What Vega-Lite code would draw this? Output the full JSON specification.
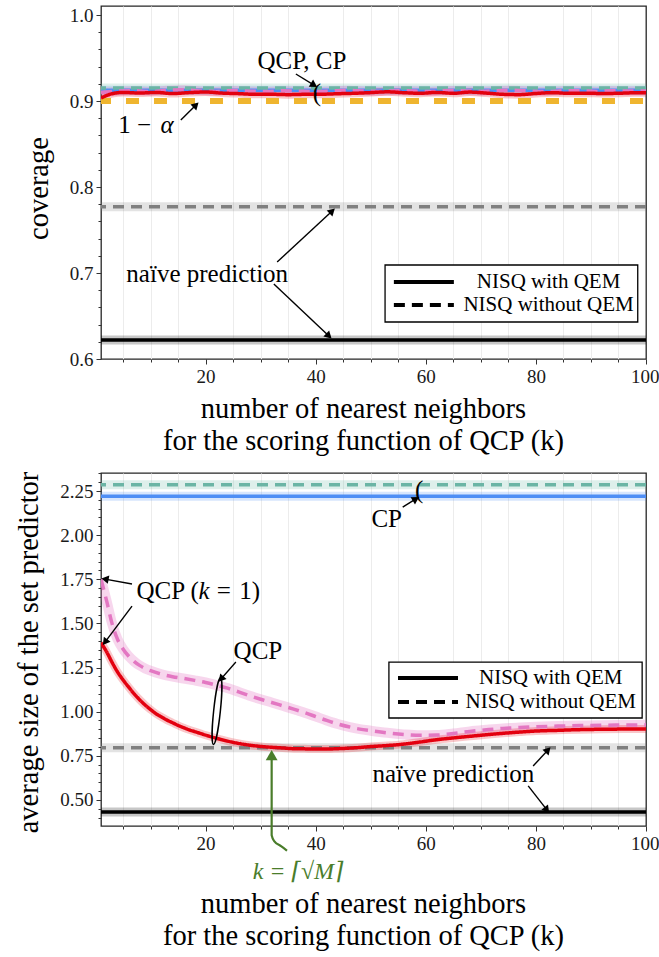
{
  "$schema": "https://vega.github.io/schema/vega-lite/v6.json",
  "background": "white",
  "padding": {"left": 13, "top": 5, "right": 2, "bottom": 2},
  "spacing": 114,
  "bounds": "flush",
  "config": {
    "font": "'Liberation Serif', 'Times New Roman', 'DejaVu Serif', serif",
    "view": {"stroke": "#262626", "strokeWidth": 1.3},
    "axis": {
      "domain": false,
      "labelFont": "'Liberation Serif', 'Times New Roman', 'DejaVu Serif', serif",
      "labelFontSize": 19,
      "labelColor": "#1a1a1a",
      "labelPadding": 3,
      "labelOverlap": false,
      "labelFlush": false,
      "tickColor": "#333333",
      "tickWidth": 1,
      "gridWidth": 1,
      "titleFont": "'Liberation Serif', 'Times New Roman', 'DejaVu Serif', serif",
      "titleFontSize": 28.5,
      "titleFontWeight": "normal",
      "titleColor": "black"
    },
    "text": {"font": "'Liberation Serif', 'Times New Roman', 'DejaVu Serif', serif"}
  },
  "resolve": {
    "scale": {"color": "independent", "strokeDash": "independent"}
  },
  "datasets": {
    "cov_qcp": [
      {"k": 1, "setting": "NISQ with QEM", "coverage": 0.9035},
      {"k": 3, "setting": "NISQ with QEM", "coverage": 0.9085},
      {"k": 5, "setting": "NISQ with QEM", "coverage": 0.9100},
      {"k": 8, "setting": "NISQ with QEM", "coverage": 0.9093},
      {"k": 11, "setting": "NISQ with QEM", "coverage": 0.9100},
      {"k": 14, "setting": "NISQ with QEM", "coverage": 0.9087},
      {"k": 17, "setting": "NISQ with QEM", "coverage": 0.9098},
      {"k": 20, "setting": "NISQ with QEM", "coverage": 0.9105},
      {"k": 23, "setting": "NISQ with QEM", "coverage": 0.9092},
      {"k": 26, "setting": "NISQ with QEM", "coverage": 0.9086},
      {"k": 29, "setting": "NISQ with QEM", "coverage": 0.9078},
      {"k": 32, "setting": "NISQ with QEM", "coverage": 0.9078},
      {"k": 35, "setting": "NISQ with QEM", "coverage": 0.9074},
      {"k": 38, "setting": "NISQ with QEM", "coverage": 0.9078},
      {"k": 41, "setting": "NISQ with QEM", "coverage": 0.9079},
      {"k": 44, "setting": "NISQ with QEM", "coverage": 0.9085},
      {"k": 47, "setting": "NISQ with QEM", "coverage": 0.9090},
      {"k": 50, "setting": "NISQ with QEM", "coverage": 0.9098},
      {"k": 53, "setting": "NISQ with QEM", "coverage": 0.9107},
      {"k": 56, "setting": "NISQ with QEM", "coverage": 0.9097},
      {"k": 59, "setting": "NISQ with QEM", "coverage": 0.9090},
      {"k": 62, "setting": "NISQ with QEM", "coverage": 0.9100},
      {"k": 65, "setting": "NISQ with QEM", "coverage": 0.9090},
      {"k": 68, "setting": "NISQ with QEM", "coverage": 0.9104},
      {"k": 71, "setting": "NISQ with QEM", "coverage": 0.9092},
      {"k": 74, "setting": "NISQ with QEM", "coverage": 0.9078},
      {"k": 77, "setting": "NISQ with QEM", "coverage": 0.9074},
      {"k": 80, "setting": "NISQ with QEM", "coverage": 0.9088},
      {"k": 83, "setting": "NISQ with QEM", "coverage": 0.9097},
      {"k": 86, "setting": "NISQ with QEM", "coverage": 0.9090},
      {"k": 89, "setting": "NISQ with QEM", "coverage": 0.9091},
      {"k": 92, "setting": "NISQ with QEM", "coverage": 0.9088},
      {"k": 95, "setting": "NISQ with QEM", "coverage": 0.9090},
      {"k": 98, "setting": "NISQ with QEM", "coverage": 0.9096},
      {"k": 100, "setting": "NISQ with QEM", "coverage": 0.9096},
      {"k": 1, "setting": "NISQ without QEM", "coverage": 0.9100},
      {"k": 4, "setting": "NISQ without QEM", "coverage": 0.9115},
      {"k": 7, "setting": "NISQ without QEM", "coverage": 0.9120},
      {"k": 10, "setting": "NISQ without QEM", "coverage": 0.9110},
      {"k": 13, "setting": "NISQ without QEM", "coverage": 0.9125},
      {"k": 16, "setting": "NISQ without QEM", "coverage": 0.9130},
      {"k": 19, "setting": "NISQ without QEM", "coverage": 0.9118},
      {"k": 22, "setting": "NISQ without QEM", "coverage": 0.9112},
      {"k": 25, "setting": "NISQ without QEM", "coverage": 0.9122},
      {"k": 28, "setting": "NISQ without QEM", "coverage": 0.9115},
      {"k": 31, "setting": "NISQ without QEM", "coverage": 0.9110},
      {"k": 34, "setting": "NISQ without QEM", "coverage": 0.9120},
      {"k": 37, "setting": "NISQ without QEM", "coverage": 0.9115},
      {"k": 40, "setting": "NISQ without QEM", "coverage": 0.9110},
      {"k": 43, "setting": "NISQ without QEM", "coverage": 0.9118},
      {"k": 46, "setting": "NISQ without QEM", "coverage": 0.9125},
      {"k": 49, "setting": "NISQ without QEM", "coverage": 0.9115},
      {"k": 52, "setting": "NISQ without QEM", "coverage": 0.9112},
      {"k": 55, "setting": "NISQ without QEM", "coverage": 0.9120},
      {"k": 58, "setting": "NISQ without QEM", "coverage": 0.9116},
      {"k": 61, "setting": "NISQ without QEM", "coverage": 0.9110},
      {"k": 64, "setting": "NISQ without QEM", "coverage": 0.9122},
      {"k": 67, "setting": "NISQ without QEM", "coverage": 0.9118},
      {"k": 70, "setting": "NISQ without QEM", "coverage": 0.9112},
      {"k": 73, "setting": "NISQ without QEM", "coverage": 0.9120},
      {"k": 76, "setting": "NISQ without QEM", "coverage": 0.9125},
      {"k": 79, "setting": "NISQ without QEM", "coverage": 0.9115},
      {"k": 82, "setting": "NISQ without QEM", "coverage": 0.9110},
      {"k": 85, "setting": "NISQ without QEM", "coverage": 0.9120},
      {"k": 88, "setting": "NISQ without QEM", "coverage": 0.9118},
      {"k": 91, "setting": "NISQ without QEM", "coverage": 0.9112},
      {"k": 94, "setting": "NISQ without QEM", "coverage": 0.9120},
      {"k": 97, "setting": "NISQ without QEM", "coverage": 0.9116},
      {"k": 100, "setting": "NISQ without QEM", "coverage": 0.9118}
    ],
    "cov_ref": [
      {"method": "CP", "series": "CP with QEM", "setting": "NISQ with QEM", "coverage": 0.9125},
      {"method": "CP", "series": "CP without QEM", "setting": "NISQ without QEM", "coverage": 0.915},
      {"method": "naive", "series": "naïve with QEM", "setting": "NISQ with QEM", "coverage": 0.622},
      {"method": "naive", "series": "naïve without QEM", "setting": "NISQ without QEM", "coverage": 0.777},
      {"method": "target", "series": "1 − α", "setting": "", "coverage": 0.9}
    ],
    "cov_notes": [
      {"k": 37.5, "coverage": 0.9465, "label": "QCP, CP", "kind": "text"},
      {"k": 7.13, "coverage": 0.8721, "label": "1 −", "kind": "text"},
      {"k": 13.0, "coverage": 0.8721, "label": "α", "kind": "math"},
      {"k": 20.3, "coverage": 0.699, "label": "naïve prediction", "kind": "text"},
      {"k": 40.2, "coverage": 0.9094, "label": "(", "kind": "brace"}
    ],
    "cov_arrows": [
      {"k": 36.4, "coverage": 0.9314, "k_tip": 39.7, "coverage_tip": 0.9186},
      {"k": 15.5, "coverage": 0.8779, "k_tip": 18.25, "coverage_tip": 0.8954},
      {"k": 33.0, "coverage": 0.7128, "k_tip": 43.0, "coverage_tip": 0.7721},
      {"k": 32.4, "coverage": 0.6872, "k_tip": 42.4, "coverage_tip": 0.6268}
    ],
    "cov_key_box": [
      {"k": 52.6, "k_end": 98.5, "coverage": 0.7093, "coverage_end": 0.643}
    ],
    "cov_key": [
      {"setting": "NISQ with QEM", "k": 54.2, "k_end": 65.1, "k_label": 82.3, "coverage": 0.6895},
      {"setting": "NISQ without QEM", "k": 54.2, "k_end": 65.1, "k_label": 82.3, "coverage": 0.6627}
    ],
    "size_qcp": [
      {"k": 1, "setting": "NISQ with QEM", "size": 1.39},
      {"k": 2, "setting": "NISQ with QEM", "size": 1.34},
      {"k": 3, "setting": "NISQ with QEM", "size": 1.28},
      {"k": 4, "setting": "NISQ with QEM", "size": 1.225},
      {"k": 5, "setting": "NISQ with QEM", "size": 1.18},
      {"k": 6, "setting": "NISQ with QEM", "size": 1.14},
      {"k": 7, "setting": "NISQ with QEM", "size": 1.102},
      {"k": 8, "setting": "NISQ with QEM", "size": 1.068},
      {"k": 9, "setting": "NISQ with QEM", "size": 1.038},
      {"k": 10, "setting": "NISQ with QEM", "size": 1.012},
      {"k": 11, "setting": "NISQ with QEM", "size": 0.988},
      {"k": 12, "setting": "NISQ with QEM", "size": 0.970},
      {"k": 13, "setting": "NISQ with QEM", "size": 0.952},
      {"k": 14, "setting": "NISQ with QEM", "size": 0.937},
      {"k": 15, "setting": "NISQ with QEM", "size": 0.922},
      {"k": 16, "setting": "NISQ with QEM", "size": 0.909},
      {"k": 17, "setting": "NISQ with QEM", "size": 0.897},
      {"k": 18, "setting": "NISQ with QEM", "size": 0.887},
      {"k": 19, "setting": "NISQ with QEM", "size": 0.877},
      {"k": 20, "setting": "NISQ with QEM", "size": 0.867},
      {"k": 22, "setting": "NISQ with QEM", "size": 0.849},
      {"k": 24, "setting": "NISQ with QEM", "size": 0.833},
      {"k": 26, "setting": "NISQ with QEM", "size": 0.820},
      {"k": 28, "setting": "NISQ with QEM", "size": 0.810},
      {"k": 30, "setting": "NISQ with QEM", "size": 0.803},
      {"k": 32, "setting": "NISQ with QEM", "size": 0.798},
      {"k": 34, "setting": "NISQ with QEM", "size": 0.794},
      {"k": 36, "setting": "NISQ with QEM", "size": 0.790},
      {"k": 38, "setting": "NISQ with QEM", "size": 0.789},
      {"k": 40, "setting": "NISQ with QEM", "size": 0.788},
      {"k": 42, "setting": "NISQ with QEM", "size": 0.788},
      {"k": 44, "setting": "NISQ with QEM", "size": 0.790},
      {"k": 46, "setting": "NISQ with QEM", "size": 0.793},
      {"k": 48, "setting": "NISQ with QEM", "size": 0.797},
      {"k": 50, "setting": "NISQ with QEM", "size": 0.802},
      {"k": 53, "setting": "NISQ with QEM", "size": 0.808},
      {"k": 56, "setting": "NISQ with QEM", "size": 0.816},
      {"k": 59, "setting": "NISQ with QEM", "size": 0.828},
      {"k": 62, "setting": "NISQ with QEM", "size": 0.841},
      {"k": 65, "setting": "NISQ with QEM", "size": 0.851},
      {"k": 68, "setting": "NISQ with QEM", "size": 0.860},
      {"k": 71, "setting": "NISQ with QEM", "size": 0.869},
      {"k": 74, "setting": "NISQ with QEM", "size": 0.877},
      {"k": 77, "setting": "NISQ with QEM", "size": 0.884},
      {"k": 80, "setting": "NISQ with QEM", "size": 0.890},
      {"k": 84, "setting": "NISQ with QEM", "size": 0.894},
      {"k": 88, "setting": "NISQ with QEM", "size": 0.898},
      {"k": 92, "setting": "NISQ with QEM", "size": 0.900},
      {"k": 96, "setting": "NISQ with QEM", "size": 0.901},
      {"k": 100, "setting": "NISQ with QEM", "size": 0.901},
      {"k": 1, "setting": "NISQ without QEM", "size": 1.75},
      {"k": 2, "setting": "NISQ without QEM", "size": 1.63},
      {"k": 3, "setting": "NISQ without QEM", "size": 1.50},
      {"k": 4, "setting": "NISQ without QEM", "size": 1.41},
      {"k": 5, "setting": "NISQ without QEM", "size": 1.355},
      {"k": 6, "setting": "NISQ without QEM", "size": 1.315},
      {"k": 7, "setting": "NISQ without QEM", "size": 1.285},
      {"k": 8, "setting": "NISQ without QEM", "size": 1.262},
      {"k": 9, "setting": "NISQ without QEM", "size": 1.245},
      {"k": 10, "setting": "NISQ without QEM", "size": 1.232},
      {"k": 12, "setting": "NISQ without QEM", "size": 1.212},
      {"k": 14, "setting": "NISQ without QEM", "size": 1.198},
      {"k": 16, "setting": "NISQ without QEM", "size": 1.188},
      {"k": 18, "setting": "NISQ without QEM", "size": 1.177},
      {"k": 20, "setting": "NISQ without QEM", "size": 1.165},
      {"k": 22, "setting": "NISQ without QEM", "size": 1.150},
      {"k": 24, "setting": "NISQ without QEM", "size": 1.133},
      {"k": 26, "setting": "NISQ without QEM", "size": 1.112},
      {"k": 28, "setting": "NISQ without QEM", "size": 1.090},
      {"k": 30, "setting": "NISQ without QEM", "size": 1.070},
      {"k": 32, "setting": "NISQ without QEM", "size": 1.052},
      {"k": 34, "setting": "NISQ without QEM", "size": 1.033},
      {"k": 36, "setting": "NISQ without QEM", "size": 1.014},
      {"k": 38, "setting": "NISQ without QEM", "size": 0.994},
      {"k": 40, "setting": "NISQ without QEM", "size": 0.972},
      {"k": 42, "setting": "NISQ without QEM", "size": 0.950},
      {"k": 44, "setting": "NISQ without QEM", "size": 0.930},
      {"k": 46, "setting": "NISQ without QEM", "size": 0.914},
      {"k": 48, "setting": "NISQ without QEM", "size": 0.901},
      {"k": 50, "setting": "NISQ without QEM", "size": 0.892},
      {"k": 53, "setting": "NISQ without QEM", "size": 0.880},
      {"k": 56, "setting": "NISQ without QEM", "size": 0.871},
      {"k": 59, "setting": "NISQ without QEM", "size": 0.866},
      {"k": 62, "setting": "NISQ without QEM", "size": 0.867},
      {"k": 65, "setting": "NISQ without QEM", "size": 0.876},
      {"k": 68, "setting": "NISQ without QEM", "size": 0.888},
      {"k": 71, "setting": "NISQ without QEM", "size": 0.897},
      {"k": 74, "setting": "NISQ without QEM", "size": 0.905},
      {"k": 77, "setting": "NISQ without QEM", "size": 0.910},
      {"k": 80, "setting": "NISQ without QEM", "size": 0.914},
      {"k": 84, "setting": "NISQ without QEM", "size": 0.918},
      {"k": 88, "setting": "NISQ without QEM", "size": 0.921},
      {"k": 92, "setting": "NISQ without QEM", "size": 0.923},
      {"k": 96, "setting": "NISQ without QEM", "size": 0.924},
      {"k": 100, "setting": "NISQ without QEM", "size": 0.925}
    ],
    "size_ref": [
      {"method": "CP", "series": "CP with QEM", "setting": "NISQ with QEM", "size": 2.22},
      {"method": "CP", "series": "CP without QEM", "setting": "NISQ without QEM", "size": 2.285},
      {"method": "naive", "series": "naïve with QEM", "setting": "NISQ with QEM", "size": 0.432},
      {"method": "naive", "series": "naïve without QEM", "setting": "NISQ without QEM", "size": 0.795}
    ],
    "size_notes": [
      {"k": 52.9, "size": 2.091, "label": "CP", "kind": "text"},
      {"k": 13.1, "size": 1.683, "label": "QCP (", "kind": "text"},
      {"k": 19.7, "size": 1.683, "label": "k", "kind": "math"},
      {"k": 23.3, "size": 1.683, "label": "=", "kind": "text"},
      {"k": 28.0, "size": 1.683, "label": "1)", "kind": "text"},
      {"k": 29.5, "size": 1.344, "label": "QCP", "kind": "text"},
      {"k": 65.0, "size": 0.647, "label": "naïve prediction", "kind": "text"},
      {"k": 58.8, "size": 2.256, "label": "(", "kind": "brace"},
      {"k": 36.8, "size": 0.091, "label": "k = ⌈√M⌉", "kind": "marker"}
    ],
    "size_arrows": [
      {"k": 6.63, "size": 1.723, "k_tip": 1.73, "size_tip": 1.751},
      {"k": 6.63, "size": 1.598, "k_tip": 1.73, "size_tip": 1.394},
      {"k": 25.5, "size": 1.281, "k_tip": 22.8, "size_tip": 1.185},
      {"k": 55.8, "size": 2.159, "k_tip": 58.2, "size_tip": 2.205},
      {"k": 79.5, "size": 0.692, "k_tip": 82.2, "size_tip": 0.783},
      {"k": 78.6, "size": 0.579, "k_tip": 82.0, "size_tip": 0.443}
    ],
    "size_ring": [
      {"k": 22.07, "size": 1.003}
    ],
    "size_kmark_path": [
      {"step": 1, "k": 32, "size": 0.73},
      {"step": 2, "k": 32, "size": 0.30},
      {"step": 3, "k": 32.5, "size": 0.265},
      {"step": 4, "k": 33.7, "size": 0.238},
      {"step": 5, "k": 34.8, "size": 0.212}
    ],
    "size_kmark_head": [
      {"k": 32, "size": 0.754}
    ],
    "size_key_box": [
      {"k": 53.3, "k_end": 99.3, "size": 1.281, "size_end": 0.964}
    ],
    "size_key": [
      {"setting": "NISQ with QEM", "k": 54.95, "k_end": 65.85, "k_label": 82.7, "size": 1.19},
      {"setting": "NISQ without QEM", "k": 54.95, "k_end": 65.85, "k_label": 82.7, "size": 1.054}
    ]
  },
  "vconcat": [
    {
      "width": 545,
      "height": 353,
      "resolve": {"axis": {"x": "independent", "y": "independent"}},
      "layer": [
        {
          "data": {"name": "cov_ref"},
          "transform": [{"filter": "datum.method !== 'target'"}],
          "mark": {"type": "rule", "strokeWidth": 9, "opacity": 0.22},
          "encoding": {
            "y": {"field": "coverage", "type": "quantitative", "axis": null, "scale": {"domain": [0.6, 1.0105], "nice": false, "zero": false}},
            "color": {"field": "series", "type": "nominal", "legend": null,
              "scale": {"domain": ["CP with QEM", "CP without QEM", "naïve with QEM", "naïve without QEM"], "range": ["#4f8ef5", "#6bb5a5", "#000000", "#808080"]}}
          }
        },
        {
          "data": {"name": "cov_qcp"},
          "transform": [{"filter": "datum.setting === 'NISQ without QEM'"}],
          "mark": {"type": "line", "color": "#e377c2", "strokeWidth": 9, "opacity": 0.3, "interpolate": "monotone", "clip": true},
          "encoding": {
            "x": {"field": "k", "type": "quantitative", "scale": {"domain": [1, 100], "nice": false, "zero": false},
              "axis": {
                "orient": "bottom",
                "values": [5, 10, 15, 25, 30, 35, 45, 50, 55, 65, 70, 75, 85, 90, 95],
                "labels": false, "tickSize": 3, "gridColor": "#ececec", "title": null
              }},
            "y": {"field": "coverage", "type": "quantitative", "scale": {"domain": [0.6, 1.0105], "nice": false, "zero": false},
              "axis": {
                "orient": "left",
                "values": [0.62, 0.64, 0.66, 0.68, 0.72, 0.74, 0.76, 0.78, 0.82, 0.84, 0.86, 0.88, 0.92, 0.94, 0.96, 0.98],
                "labels": false, "tickSize": 3, "gridColor": "#ececec", "title": null
              }}
          }
        },
        {
          "data": {"name": "cov_qcp"},
          "transform": [{"filter": "datum.setting === 'NISQ with QEM'"}],
          "mark": {"type": "line", "color": "#e3000f", "strokeWidth": 8, "opacity": 0.22, "interpolate": "monotone", "clip": true},
          "encoding": {
            "x": {"field": "k", "type": "quantitative", "scale": {"domain": [1, 100], "nice": false, "zero": false},
              "axis": {
                "orient": "bottom",
                "values": [20, 40, 60, 80, 100],
                "format": "d", "labelOverlap": false, "labelFlush": true, "labelFlushOffset": 13,
                "tickSize": 5, "gridColor": "#b0b0b0", "gridDash": [1.5, 2.5],
                "title": ["number of nearest neighbors", "for the scoring function of QCP (k)"],
                "titleX": 262, "titleY": 58, "titleAlign": "center", "titleBaseline": "alphabetic", "titleLineHeight": 32
              }},
            "y": {"field": "coverage", "type": "quantitative", "scale": {"domain": [0.6, 1.0105], "nice": false, "zero": false},
              "axis": {
                "orient": "left",
                "values": [0.6, 0.7, 0.8, 0.9, 1.0],
                "format": ".1f", "labelOverlap": false, "labelFlush": false,
                "tickSize": 5, "gridColor": "#b0b0b0", "gridDash": [1.5, 2.5],
                "title": "coverage",
                "titleX": -54, "titleY": 182, "titleAlign": "center", "titleBaseline": "alphabetic", "titleAngle": 270
              }}
          }
        },
        {
          "data": {"name": "cov_ref"},
          "transform": [{"filter": "datum.method !== 'target'"}],
          "mark": {"type": "rule", "strokeWidth": 3.5},
          "encoding": {
            "y": {"field": "coverage", "type": "quantitative", "axis": null, "scale": {"domain": [0.6, 1.0105], "nice": false, "zero": false}},
            "color": {"field": "series", "type": "nominal", "legend": null,
              "scale": {"domain": ["CP with QEM", "CP without QEM", "naïve with QEM", "naïve without QEM"], "range": ["#4f8ef5", "#6bb5a5", "#000000", "#808080"]}},
            "strokeDash": {"field": "setting", "type": "nominal", "legend": null,
              "scale": {"domain": ["NISQ with QEM", "NISQ without QEM"], "range": [[1, 0], [11, 7]]}}
          }
        },
        {
          "data": {"name": "cov_ref"},
          "transform": [{"filter": "datum.method === 'target'"}],
          "mark": {"type": "rule", "color": "#efb52f", "strokeWidth": 6, "strokeDash": [13, 15], "strokeDashOffset": 25},
          "encoding": {
            "y": {"field": "coverage", "type": "quantitative", "axis": null, "scale": {"domain": [0.6, 1.0105], "nice": false, "zero": false}}
          }
        },
        {
          "data": {"name": "cov_qcp"},
          "transform": [{"filter": "datum.setting === 'NISQ without QEM'"}],
          "mark": {"type": "line", "color": "#e377c2", "strokeWidth": 3.5, "interpolate": "monotone", "clip": true},
          "encoding": {
            "x": {"field": "k", "type": "quantitative", "axis": null, "scale": {"domain": [1, 100], "nice": false, "zero": false}},
            "y": {"field": "coverage", "type": "quantitative", "axis": null, "scale": {"domain": [0.6, 1.0105], "nice": false, "zero": false}},
            "strokeDash": {"field": "setting", "type": "nominal", "legend": null,
              "scale": {"domain": ["NISQ with QEM", "NISQ without QEM"], "range": [[1, 0], [11, 7]]}}
          }
        },
        {
          "data": {"name": "cov_qcp"},
          "transform": [{"filter": "datum.setting === 'NISQ with QEM'"}],
          "mark": {"type": "line", "color": "#e3000f", "strokeWidth": 3.5, "interpolate": "monotone", "clip": true},
          "encoding": {
            "x": {"field": "k", "type": "quantitative", "axis": null, "scale": {"domain": [1, 100], "nice": false, "zero": false}},
            "y": {"field": "coverage", "type": "quantitative", "axis": null, "scale": {"domain": [0.6, 1.0105], "nice": false, "zero": false}},
            "strokeDash": {"field": "setting", "type": "nominal", "legend": null,
              "scale": {"domain": ["NISQ with QEM", "NISQ without QEM"], "range": [[1, 0], [11, 7]]}}
          }
        },
        {
          "data": {"name": "cov_arrows"},
          "mark": {"type": "rule", "color": "black", "strokeWidth": 1.4},
          "encoding": {
            "x": {"field": "k", "type": "quantitative", "axis": null, "scale": {"domain": [1, 100], "nice": false, "zero": false}},
            "y": {"field": "coverage", "type": "quantitative", "axis": null, "scale": {"domain": [0.6, 1.0105], "nice": false, "zero": false}},
            "x2": {"field": "k_tip"},
            "y2": {"field": "coverage_tip"}
          }
        },
        {
          "data": {"name": "cov_arrows"},
          "transform": [{"calculate": "atan2((datum.k_tip - datum.k) * 5.505, (datum.coverage_tip - datum.coverage) * 860) * 180 / PI", "as": "heading"}],
          "mark": {"type": "point", "shape": "triangle-up", "filled": true, "color": "black", "opacity": 1, "size": 70},
          "encoding": {
            "x": {"field": "k_tip", "type": "quantitative", "axis": null, "scale": {"domain": [1, 100], "nice": false, "zero": false}},
            "y": {"field": "coverage_tip", "type": "quantitative", "axis": null, "scale": {"domain": [0.6, 1.0105], "nice": false, "zero": false}},
            "angle": {"field": "heading", "type": "quantitative", "scale": null}
          }
        },
        {
          "data": {"name": "cov_notes"},
          "transform": [{"filter": "datum.kind === 'text'"}],
          "mark": {"type": "text", "fontSize": 25, "align": "center", "baseline": "middle", "color": "black"},
          "encoding": {
            "x": {"field": "k", "type": "quantitative", "axis": null, "scale": {"domain": [1, 100], "nice": false, "zero": false}},
            "y": {"field": "coverage", "type": "quantitative", "axis": null, "scale": {"domain": [0.6, 1.0105], "nice": false, "zero": false}},
            "text": {"field": "label"}
          }
        },
        {
          "data": {"name": "cov_notes"},
          "transform": [{"filter": "datum.kind === 'math'"}],
          "mark": {"type": "text", "fontSize": 25, "fontStyle": "italic", "align": "center", "baseline": "middle", "color": "black"},
          "encoding": {
            "x": {"field": "k", "type": "quantitative", "axis": null, "scale": {"domain": [1, 100], "nice": false, "zero": false}},
            "y": {"field": "coverage", "type": "quantitative", "axis": null, "scale": {"domain": [0.6, 1.0105], "nice": false, "zero": false}},
            "text": {"field": "label"}
          }
        },
        {
          "data": {"name": "cov_notes"},
          "transform": [{"filter": "datum.kind === 'brace'"}],
          "mark": {"type": "text", "fontSize": 25, "align": "center", "baseline": "middle", "color": "black"},
          "encoding": {
            "x": {"field": "k", "type": "quantitative", "axis": null, "scale": {"domain": [1, 100], "nice": false, "zero": false}},
            "y": {"field": "coverage", "type": "quantitative", "axis": null, "scale": {"domain": [0.6, 1.0105], "nice": false, "zero": false}},
            "text": {"field": "label"}
          }
        },
        {
          "data": {"name": "cov_key_box"},
          "mark": {"type": "rect", "fill": "white", "stroke": "black", "strokeWidth": 1.3},
          "encoding": {
            "x": {"field": "k", "type": "quantitative", "axis": null, "scale": {"domain": [1, 100], "nice": false, "zero": false}},
            "x2": {"field": "k_end"},
            "y": {"field": "coverage", "type": "quantitative", "axis": null, "scale": {"domain": [0.6, 1.0105], "nice": false, "zero": false}},
            "y2": {"field": "coverage_end"}
          }
        },
        {
          "data": {"name": "cov_key"},
          "mark": {"type": "rule", "color": "black", "strokeWidth": 4},
          "encoding": {
            "x": {"field": "k", "type": "quantitative", "axis": null, "scale": {"domain": [1, 100], "nice": false, "zero": false}},
            "x2": {"field": "k_end"},
            "y": {"field": "coverage", "type": "quantitative", "axis": null, "scale": {"domain": [0.6, 1.0105], "nice": false, "zero": false}},
            "strokeDash": {"field": "setting", "type": "nominal", "legend": null,
              "scale": {"domain": ["NISQ with QEM", "NISQ without QEM"], "range": [[1, 0], [11, 7]]}}
          }
        },
        {
          "data": {"name": "cov_key"},
          "mark": {"type": "text", "fontSize": 21, "align": "center", "baseline": "middle", "color": "black"},
          "encoding": {
            "x": {"field": "k_label", "type": "quantitative", "axis": null, "scale": {"domain": [1, 100], "nice": false, "zero": false}},
            "y": {"field": "coverage", "type": "quantitative", "axis": null, "scale": {"domain": [0.6, 1.0105], "nice": false, "zero": false}},
            "text": {"field": "setting"}
          }
        }
      ]
    },
    {
      "width": 545,
      "height": 353,
      "resolve": {"axis": {"x": "independent", "y": "independent"}},
      "layer": [
        {
          "data": {"name": "size_ref"},
          "mark": {"type": "rule", "strokeWidth": 9, "opacity": 0.22},
          "encoding": {
            "y": {"field": "size", "type": "quantitative", "axis": null, "scale": {"domain": [0.352, 2.352], "nice": false, "zero": false}},
            "color": {"field": "series", "type": "nominal", "legend": null,
              "scale": {"domain": ["CP with QEM", "CP without QEM", "naïve with QEM", "naïve without QEM"], "range": ["#4f8ef5", "#6bb5a5", "#000000", "#808080"]}}
          }
        },
        {
          "data": {"name": "size_qcp"},
          "transform": [{"filter": "datum.setting === 'NISQ without QEM'"}],
          "mark": {"type": "line", "color": "#e377c2", "strokeWidth": 10, "opacity": 0.3, "interpolate": "monotone", "clip": true},
          "encoding": {
            "x": {"field": "k", "type": "quantitative", "scale": {"domain": [1, 100], "nice": false, "zero": false},
              "axis": {
                "orient": "bottom",
                "values": [5, 10, 15, 25, 30, 35, 45, 50, 55, 65, 70, 75, 85, 90, 95],
                "labels": false, "tickSize": 3, "gridColor": "#ececec", "title": null
              }},
            "y": {"field": "size", "type": "quantitative", "scale": {"domain": [0.352, 2.352], "nice": false, "zero": false},
              "axis": {
                "orient": "left",
                "values": [0.4, 0.45, 0.55, 0.6, 0.65, 0.7, 0.8, 0.85, 0.9, 0.95, 1.05, 1.1, 1.15, 1.2, 1.3, 1.35, 1.4, 1.45, 1.55, 1.6, 1.65, 1.7, 1.8, 1.85, 1.9, 1.95, 2.05, 2.1, 2.15, 2.2, 2.3, 2.35],
                "labels": false, "tickSize": 3, "gridColor": "#ececec", "title": null
              }}
          }
        },
        {
          "data": {"name": "size_qcp"},
          "transform": [{"filter": "datum.setting === 'NISQ with QEM'"}],
          "mark": {"type": "line", "color": "#e3000f", "strokeWidth": 8, "opacity": 0.22, "interpolate": "monotone", "clip": true},
          "encoding": {
            "x": {"field": "k", "type": "quantitative", "scale": {"domain": [1, 100], "nice": false, "zero": false},
              "axis": {
                "orient": "bottom",
                "values": [20, 40, 60, 80, 100],
                "format": "d", "labelOverlap": false, "labelFlush": true, "labelFlushOffset": 13,
                "tickSize": 5, "gridColor": "#b0b0b0", "gridDash": [1.5, 2.5],
                "title": ["number of nearest neighbors", "for the scoring function of QCP (k)"],
                "titleX": 262, "titleY": 86, "titleAlign": "center", "titleBaseline": "alphabetic", "titleLineHeight": 32
              }},
            "y": {"field": "size", "type": "quantitative", "scale": {"domain": [0.352, 2.352], "nice": false, "zero": false},
              "axis": {
                "orient": "left",
                "values": [0.5, 0.75, 1.0, 1.25, 1.5, 1.75, 2.0, 2.25],
                "format": ".2f", "labelOverlap": false, "labelFlush": false,
                "tickSize": 5, "gridColor": "#b0b0b0", "gridDash": [1.5, 2.5],
                "title": "average size of the set predictor",
                "titleX": -64, "titleY": 179, "titleAlign": "center", "titleBaseline": "alphabetic", "titleAngle": 270
              }}
          }
        },
        {
          "data": {"name": "size_ref"},
          "mark": {"type": "rule", "strokeWidth": 3.5},
          "encoding": {
            "y": {"field": "size", "type": "quantitative", "axis": null, "scale": {"domain": [0.352, 2.352], "nice": false, "zero": false}},
            "color": {"field": "series", "type": "nominal", "legend": null,
              "scale": {"domain": ["CP with QEM", "CP without QEM", "naïve with QEM", "naïve without QEM"], "range": ["#4f8ef5", "#6bb5a5", "#000000", "#808080"]}},
            "strokeDash": {"field": "setting", "type": "nominal", "legend": null,
              "scale": {"domain": ["NISQ with QEM", "NISQ without QEM"], "range": [[1, 0], [11, 7]]}}
          }
        },
        {
          "data": {"name": "size_qcp"},
          "transform": [{"filter": "datum.setting === 'NISQ without QEM'"}],
          "mark": {"type": "line", "color": "#e377c2", "strokeWidth": 3.5, "interpolate": "monotone", "clip": true},
          "encoding": {
            "x": {"field": "k", "type": "quantitative", "axis": null, "scale": {"domain": [1, 100], "nice": false, "zero": false}},
            "y": {"field": "size", "type": "quantitative", "axis": null, "scale": {"domain": [0.352, 2.352], "nice": false, "zero": false}},
            "strokeDash": {"field": "setting", "type": "nominal", "legend": null,
              "scale": {"domain": ["NISQ with QEM", "NISQ without QEM"], "range": [[1, 0], [11, 7]]}}
          }
        },
        {
          "data": {"name": "size_qcp"},
          "transform": [{"filter": "datum.setting === 'NISQ with QEM'"}],
          "mark": {"type": "line", "color": "#e3000f", "strokeWidth": 3.5, "interpolate": "monotone", "clip": true},
          "encoding": {
            "x": {"field": "k", "type": "quantitative", "axis": null, "scale": {"domain": [1, 100], "nice": false, "zero": false}},
            "y": {"field": "size", "type": "quantitative", "axis": null, "scale": {"domain": [0.352, 2.352], "nice": false, "zero": false}},
            "strokeDash": {"field": "setting", "type": "nominal", "legend": null,
              "scale": {"domain": ["NISQ with QEM", "NISQ without QEM"], "range": [[1, 0], [11, 7]]}}
          }
        },
        {
          "data": {"name": "size_kmark_path"},
          "mark": {"type": "line", "color": "#4a7d2b", "strokeWidth": 2.2, "interpolate": "monotone", "clip": false},
          "encoding": {
            "x": {"field": "k", "type": "quantitative", "axis": null, "scale": {"domain": [1, 100], "nice": false, "zero": false}},
            "y": {"field": "size", "type": "quantitative", "axis": null, "scale": {"domain": [0.352, 2.352], "nice": false, "zero": false}},
            "order": {"field": "step", "type": "quantitative"}
          }
        },
        {
          "data": {"name": "size_kmark_head"},
          "mark": {"type": "point", "shape": "triangle-up", "filled": true, "color": "#4a7d2b", "opacity": 1, "size": 140},
          "encoding": {
            "x": {"field": "k", "type": "quantitative", "axis": null, "scale": {"domain": [1, 100], "nice": false, "zero": false}},
            "y": {"field": "size", "type": "quantitative", "axis": null, "scale": {"domain": [0.352, 2.352], "nice": false, "zero": false}}
          }
        },
        {
          "data": {"name": "size_ring"},
          "mark": {"type": "point", "shape": "M0,-1 A0.1,1 0 1,1 0,1 A0.1,1 0 1,1 0,-1 Z", "filled": false, "color": "black", "strokeWidth": 1.5, "opacity": 1, "size": 4489, "angle": 6},
          "encoding": {
            "x": {"field": "k", "type": "quantitative", "axis": null, "scale": {"domain": [1, 100], "nice": false, "zero": false}},
            "y": {"field": "size", "type": "quantitative", "axis": null, "scale": {"domain": [0.352, 2.352], "nice": false, "zero": false}}
          }
        },
        {
          "data": {"name": "size_arrows"},
          "mark": {"type": "rule", "color": "black", "strokeWidth": 1.4},
          "encoding": {
            "x": {"field": "k", "type": "quantitative", "axis": null, "scale": {"domain": [1, 100], "nice": false, "zero": false}},
            "y": {"field": "size", "type": "quantitative", "axis": null, "scale": {"domain": [0.352, 2.352], "nice": false, "zero": false}},
            "x2": {"field": "k_tip"},
            "y2": {"field": "size_tip"}
          }
        },
        {
          "data": {"name": "size_arrows"},
          "transform": [{"calculate": "atan2((datum.k_tip - datum.k) * 5.505, (datum.size_tip - datum.size) * 176.5) * 180 / PI", "as": "heading"}],
          "mark": {"type": "point", "shape": "triangle-up", "filled": true, "color": "black", "opacity": 1, "size": 70},
          "encoding": {
            "x": {"field": "k_tip", "type": "quantitative", "axis": null, "scale": {"domain": [1, 100], "nice": false, "zero": false}},
            "y": {"field": "size_tip", "type": "quantitative", "axis": null, "scale": {"domain": [0.352, 2.352], "nice": false, "zero": false}},
            "angle": {"field": "heading", "type": "quantitative", "scale": null}
          }
        },
        {
          "data": {"name": "size_notes"},
          "transform": [{"filter": "datum.kind === 'text'"}],
          "mark": {"type": "text", "fontSize": 25, "align": "center", "baseline": "middle", "color": "black"},
          "encoding": {
            "x": {"field": "k", "type": "quantitative", "axis": null, "scale": {"domain": [1, 100], "nice": false, "zero": false}},
            "y": {"field": "size", "type": "quantitative", "axis": null, "scale": {"domain": [0.352, 2.352], "nice": false, "zero": false}},
            "text": {"field": "label"}
          }
        },
        {
          "data": {"name": "size_notes"},
          "transform": [{"filter": "datum.kind === 'math'"}],
          "mark": {"type": "text", "fontSize": 25, "fontStyle": "italic", "align": "center", "baseline": "middle", "color": "black"},
          "encoding": {
            "x": {"field": "k", "type": "quantitative", "axis": null, "scale": {"domain": [1, 100], "nice": false, "zero": false}},
            "y": {"field": "size", "type": "quantitative", "axis": null, "scale": {"domain": [0.352, 2.352], "nice": false, "zero": false}},
            "text": {"field": "label"}
          }
        },
        {
          "data": {"name": "size_notes"},
          "transform": [{"filter": "datum.kind === 'brace'"}],
          "mark": {"type": "text", "fontSize": 25, "align": "center", "baseline": "middle", "color": "black"},
          "encoding": {
            "x": {"field": "k", "type": "quantitative", "axis": null, "scale": {"domain": [1, 100], "nice": false, "zero": false}},
            "y": {"field": "size", "type": "quantitative", "axis": null, "scale": {"domain": [0.352, 2.352], "nice": false, "zero": false}},
            "text": {"field": "label"}
          }
        },
        {
          "data": {"name": "size_notes"},
          "transform": [{"filter": "datum.kind === 'marker'"}],
          "mark": {"type": "text", "fontSize": 24, "fontStyle": "italic", "align": "center", "baseline": "middle", "color": "#4a7d2b"},
          "encoding": {
            "x": {"field": "k", "type": "quantitative", "axis": null, "scale": {"domain": [1, 100], "nice": false, "zero": false}},
            "y": {"field": "size", "type": "quantitative", "axis": null, "scale": {"domain": [0.352, 2.352], "nice": false, "zero": false}},
            "text": {"field": "label"}
          }
        },
        {
          "data": {"name": "size_key_box"},
          "mark": {"type": "rect", "fill": "white", "stroke": "black", "strokeWidth": 1.3},
          "encoding": {
            "x": {"field": "k", "type": "quantitative", "axis": null, "scale": {"domain": [1, 100], "nice": false, "zero": false}},
            "x2": {"field": "k_end"},
            "y": {"field": "size", "type": "quantitative", "axis": null, "scale": {"domain": [0.352, 2.352], "nice": false, "zero": false}},
            "y2": {"field": "size_end"}
          }
        },
        {
          "data": {"name": "size_key"},
          "mark": {"type": "rule", "color": "black", "strokeWidth": 4},
          "encoding": {
            "x": {"field": "k", "type": "quantitative", "axis": null, "scale": {"domain": [1, 100], "nice": false, "zero": false}},
            "x2": {"field": "k_end"},
            "y": {"field": "size", "type": "quantitative", "axis": null, "scale": {"domain": [0.352, 2.352], "nice": false, "zero": false}},
            "strokeDash": {"field": "setting", "type": "nominal", "legend": null,
              "scale": {"domain": ["NISQ with QEM", "NISQ without QEM"], "range": [[1, 0], [11, 7]]}}
          }
        },
        {
          "data": {"name": "size_key"},
          "mark": {"type": "text", "fontSize": 21, "align": "center", "baseline": "middle", "color": "black"},
          "encoding": {
            "x": {"field": "k_label", "type": "quantitative", "axis": null, "scale": {"domain": [1, 100], "nice": false, "zero": false}},
            "y": {"field": "size", "type": "quantitative", "axis": null, "scale": {"domain": [0.352, 2.352], "nice": false, "zero": false}},
            "text": {"field": "setting"}
          }
        }
      ]
    }
  ]
}
